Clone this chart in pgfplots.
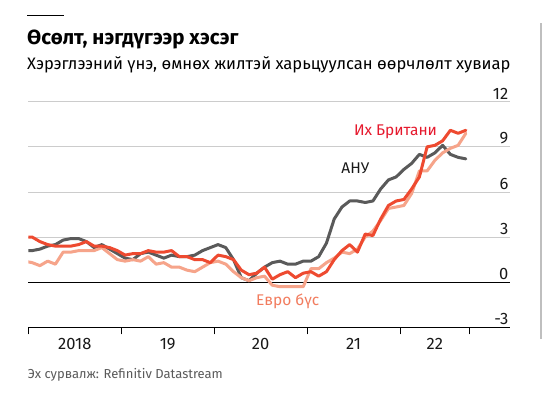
\documentclass[border=0pt]{standalone}
\usepackage{fontspec}
\setmainfont{Fira Sans}
\usepackage{pgfplots}
\usepackage{pgfplotstable}
\pgfplotsset{compat=1.18}
\definecolor{usgray}{RGB}{90,90,90}
\definecolor{ukred}{RGB}{238,74,48}
\definecolor{eurosal}{RGB}{246,164,138}
\definecolor{uklab}{RGB}{230,25,45}
\definecolor{eurolab}{RGB}{242,124,94}
\definecolor{gridc}{RGB}{204,204,204}
\definecolor{srcc}{RGB}{90,90,90}

% x = month index (Jan 2018 = 0.5, mid-month); Dec 2017 at -0.5
\pgfplotstableread{
x y
-0.5 2.1
0.5 2.1
1.5 2.2
2.5 2.4
3.5 2.5
4.5 2.8
5.5 2.9
6.5 2.9
7.5 2.7
8.5 2.3
9.5 2.5
10.5 2.2
11.5 1.9
12.5 1.6
13.5 1.5
14.5 1.9
15.5 2.0
16.5 1.8
17.5 1.6
18.5 1.8
19.5 1.7
20.5 1.7
21.5 1.8
22.5 2.1
23.5 2.3
24.5 2.5
25.5 2.3
26.5 1.5
27.5 0.3
28.5 0.1
29.5 0.6
30.5 1.0
31.5 1.3
32.5 1.4
33.5 1.2
34.5 1.2
35.5 1.4
36.5 1.4
37.5 1.7
38.5 2.6
39.5 4.2
40.5 5.0
41.5 5.4
42.5 5.4
43.5 5.3
44.5 5.4
45.5 6.2
46.5 6.8
47.5 7.0
48.5 7.5
49.5 7.9
50.5 8.5
51.5 8.3
52.5 8.6
53.5 9.1
54.5 8.5
55.5 8.3
56.5 8.2
}\usdata

\pgfplotstableread{
x y
-0.5 3.0
0.5 3.0
1.5 2.7
2.5 2.5
3.5 2.4
4.5 2.4
5.5 2.4
6.5 2.5
7.5 2.7
8.5 2.4
9.5 2.4
10.5 2.3
11.5 2.1
12.5 1.8
13.5 1.9
14.5 1.9
15.5 2.1
16.5 2.0
17.5 2.0
18.5 2.1
19.5 1.7
20.5 1.7
21.5 1.5
22.5 1.5
23.5 1.3
24.5 1.8
25.5 1.7
26.5 1.5
27.5 0.8
28.5 0.5
29.5 0.6
30.5 1.0
31.5 0.2
32.5 0.5
33.5 0.7
34.5 0.3
35.5 0.6
36.5 0.7
37.5 0.4
38.5 0.7
39.5 1.5
40.5 2.1
41.5 2.5
42.5 2.0
43.5 3.2
44.5 3.1
45.5 4.2
46.5 5.1
47.5 5.4
48.5 5.5
49.5 6.2
50.5 7.0
51.5 9.0
52.5 9.1
53.5 9.4
54.5 10.1
55.5 9.9
56.5 10.1
}\ukdata

\pgfplotstableread{
x y
-0.5 1.4
0.5 1.3
1.5 1.1
2.5 1.4
3.5 1.2
4.5 2.0
5.5 2.0
6.5 2.1
7.5 2.1
8.5 2.1
9.5 2.3
10.5 1.9
11.5 1.5
12.5 1.4
13.5 1.5
14.5 1.4
15.5 1.7
16.5 1.2
17.5 1.3
18.5 1.0
19.5 1.0
20.5 0.8
21.5 0.7
22.5 1.0
23.5 1.3
24.5 1.4
25.5 1.2
26.5 0.7
27.5 0.3
28.5 0.1
29.5 0.3
30.5 0.4
31.5 -0.2
32.5 -0.3
33.5 -0.3
34.5 -0.3
35.5 -0.3
36.5 0.9
37.5 0.9
38.5 1.3
39.5 1.6
40.5 2.0
41.5 1.9
42.5 2.2
43.5 3.0
44.5 3.4
45.5 4.1
46.5 4.9
47.5 5.0
48.5 5.1
49.5 5.9
50.5 7.4
51.5 7.4
52.5 8.1
53.5 8.6
54.5 8.9
55.5 9.1
56.5 9.9
}\eudata

\begin{document}
\begin{tikzpicture}
\fill[white] (0pt,0pt) rectangle (542pt,394pt);
\fill[black!25] (539.5pt,371pt) rectangle (542pt,55pt);
\draw[black, line width=1pt] (27pt,378.3pt) -- (63.6pt,378.3pt);
\node[anchor=base west, inner sep=0pt, font=\bfseries\fontsize{20.5}{24}\selectfont] at (27pt,349.6pt) {Өсөлт, нэгдүгээр хэсэг};
\node[anchor=base west, inner sep=0pt, font=\fontsize{16.6}{19}\selectfont] at (27pt,324.5pt) {Хэрэглээний үнэ, өмнөх жилтэй харьцуулсан өөрчлөлт хувиар};
\node[anchor=base west, inner sep=0pt, text=srcc, font=\fontsize{13}{16}\selectfont] at (27.7pt,15.2pt) {Эх сурвалж: Refinitiv Datastream};
\begin{axis}[
  at={(28.3pt,111.8pt)}, anchor=origin,
  scale only axis, width=481.7pt, height=225.6pt,
  xmin=0, xmax=62.2, ymin=-3, ymax=12,
  axis line style={draw=none},
  clip mode=individual,
  xtick={0,12,24,36,48,57}, xticklabels={},
  xtick pos=bottom, xtick align=outside,
  x tick style={black, line width=0.9pt},
  major tick length=7pt,
  extra x ticks={6,18,30,42,52.5},
  extra x tick labels={2018,19,20,21,22},
  extra x tick style={major tick length=0pt, xticklabel style={yshift=-7pt}},
  ytick={3,6,9,12},
  extra y ticks={-3,0},
  extra y tick style={grid style={black, line width=0.9pt}},
  ymajorgrids,
  grid style={gridc, line width=0.9pt},
  yticklabel pos=right,
  y tick style={draw=none},
  yticklabel style={anchor=south east, inner sep=0.5pt, yshift=2pt, xshift=-1pt},
  /pgf/number format/assume math mode=true,
  ticklabel style={font=\fontsize{16.5}{19}\selectfont, text=black!90},
  every axis plot/.append style={line width=3pt, line join=round, line cap=round},
]
\addplot[usgray, no marks] table {\usdata};
\addplot[eurosal, no marks] table {\eudata};
\addplot[ukred, no marks] table {\ukdata};
\node[anchor=base east, text=uklab, font=\fontsize{15.5}{18}\selectfont, inner sep=0pt] at (axis cs:52.8,9.75) {Их Британи};
\node[anchor=base west, text=black!90, font=\fontsize{15.5}{18}\selectfont, inner sep=0pt] at (axis cs:40.4,7.2) {АНУ};
\node[anchor=base west, text=eurolab, font=\fontsize{15.5}{18}\selectfont, inner sep=0pt] at (axis cs:29.4,-1.52) {Евро бүс};
\end{axis}
\end{tikzpicture}
\end{document}
